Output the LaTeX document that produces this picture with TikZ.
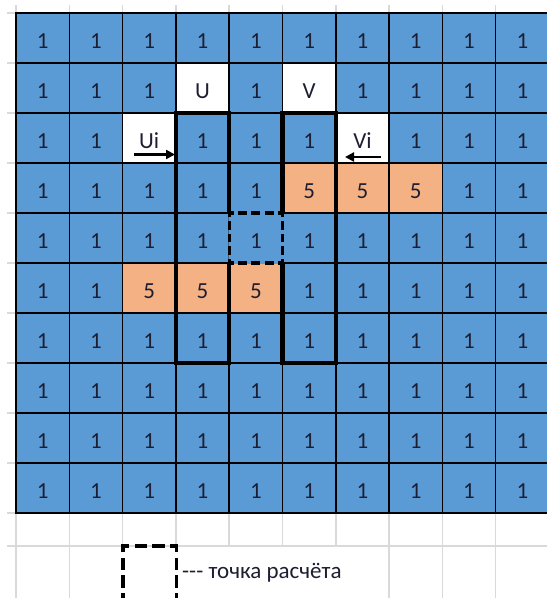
\documentclass[tikz,border=0pt]{standalone}
\usepackage{fontspec}
\setmainfont{Carlito}[Ligatures=TeXOff]
\usetikzlibrary{arrows.meta}
\definecolor{cellblue}{HTML}{5B9BD5}
\definecolor{cellorange}{HTML}{F4B183}
\definecolor{gridgray}{HTML}{D9D9D9}
\definecolor{txt}{HTML}{1E1E32}
\colorlet{fill1}{cellblue}
\colorlet{fill5}{cellorange}
\colorlet{fillU}{white}
\colorlet{fillV}{white}
\colorlet{fillUi}{white}
\colorlet{fillVi}{white}
\begin{document}
\begin{tikzpicture}[x=1pt,y=-1pt,
  cell/.style={draw=black, line width=1.5pt, minimum width=53.3pt, minimum height=50pt,
    inner sep=0pt, outer sep=0pt, text height=20pt, text depth=0pt, text=txt,
    font=\fontsize{23}{27}\selectfont},
  gline/.style={draw=gridgray, line width=1.5pt},
  heavy/.style={draw=black, line width=4.5pt, line join=miter},
  hdash/.style={draw=black, line width=3.2pt, line cap=rect, dash pattern=on 5.8pt off 7.5pt, dash phase=2.9pt},
  vdash/.style={draw=black, line width=3.2pt, line cap=rect, dash pattern=on 5.3pt off 7.2pt, dash phase=2.65pt},
  ldash/.style={draw=black, line width=3.2pt, line cap=rect, dash pattern=on 9.3pt off 8.47pt, dash phase=4.65pt},
  arr/.style={line width=2.5pt, -{Triangle[length=9pt,width=9pt]}},
  legend/.style={inner sep=0pt, text=txt, font=\fontsize{23}{27}\selectfont}]
\useasboundingbox (0,0) rectangle (547,598);
\begin{scope}
\clip (0,0) rectangle (547,598);
% light spreadsheet grid outside the coloured table
\foreach \i in {0,...,10} {
  \draw[gline] ({16+53.3*\i},5) -- ({16+53.3*\i},13);
  \draw[gline] (7,{13+50*\i}) -- (16,{13+50*\i});
}
\draw[gline] (7,546) -- (547,546);
\foreach \i in {0,...,9} {
  \draw[gline] ({16+53.3*\i},513) -- ({16+53.3*\i},546);
}
\foreach \i in {0,1,7,8,9} {
  \draw[gline] ({16+53.3*\i},546) -- ({16+53.3*\i},598);
}
% table cells
\foreach \row [count=\r] in {
  {1,1,1,1,1,1,1,1,1,1},
  {1,1,1,U,1,V,1,1,1,1},
  {1,1,Ui,1,1,1,Vi,1,1,1},
  {1,1,1,1,1,5,5,5,1,1},
  {1,1,1,1,1,1,1,1,1,1},
  {1,1,5,5,5,1,1,1,1,1},
  {1,1,1,1,1,1,1,1,1,1},
  {1,1,1,1,1,1,1,1,1,1},
  {1,1,1,1,1,1,1,1,1,1},
  {1,1,1,1,1,1,1,1,1,1}} {
  \foreach \v [count=\c] in \row {
    \node[cell, fill=fill\v] (c\r-\c) at ({16+53.3*(\c-0.5)},{13+50*(\r-0.5)}) {\v};
  }
}
% hide the thin borders of the calculation cell
\fill[cellblue, even odd rule]
  ([shift={(-0.9,-0.9)}]c5-5.north west) rectangle ([shift={(0.9,0.9)}]c5-5.south east)
  ([shift={(0.9,0.9)}]c5-5.north west) rectangle ([shift={(-0.9,-0.9)}]c5-5.south east);
% heavy column outlines (interrupted by the dashed cell)
\draw[heavy] (c5-4.north east) -- (c3-4.north east) -- (c3-4.north west)
  -- (c7-4.south west) -- (c7-4.south east) -- (c5-4.south east);
\draw[heavy] (c5-6.north west) -- (c3-6.north west) -- (c3-6.north east)
  -- (c7-6.south east) -- (c7-6.south west) -- (c5-6.south west);
% dashed calculation point
\draw[hdash] (c5-5.north west) -- (c5-5.north east);
\draw[hdash] (c5-5.south west) -- (c5-5.south east);
\draw[vdash] (c5-5.north west) -- (c5-5.south west);
\draw[vdash] (c5-5.north east) -- (c5-5.south east);
% arrows
\coordinate (uia) at (134,154.5);
\coordinate (uib) at (175,154.5);
\coordinate (via) at (381,157);
\coordinate (vib) at (345,157);
\draw[arr] (uia) -- (uib);
\draw[arr] (via) -- (vib);
% legend
\coordinate (lgtl) at (123,546);
\coordinate (lgtr) at (176.3,546);
\coordinate (lgbl) at (123,604);
\coordinate (lgbr) at (176.3,604);
\draw[ldash] (lgtl) -- (lgbl);
\draw[ldash] (lgtr) -- (lgbr);
\draw[ldash] (lgtl) -- (lgtr);
\node[legend, anchor=base west] (lgtext) at (182,578) {--- точка расчёта};
\end{scope}
\end{tikzpicture}
\end{document}
